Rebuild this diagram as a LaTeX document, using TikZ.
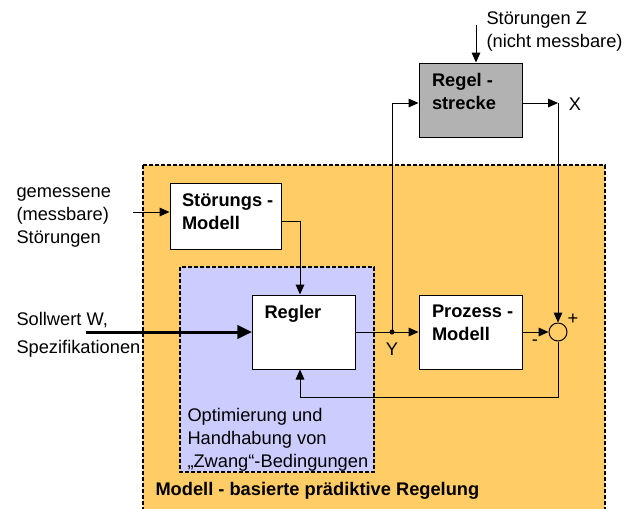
\documentclass[tikz,border=0pt]{standalone}
\usepackage{fontspec}
\setmainfont{Liberation Sans}
\usetikzlibrary{arrows.meta,calc}
\definecolor{mpcorange}{RGB}{255,204,102}
\definecolor{optblue}{RGB}{204,204,255}
\definecolor{plantgray}{RGB}{178,178,178}

\begin{document}
\begin{tikzpicture}[
		x=0.75pt, y=-0.75pt, line width=0.75pt,
		txt/.style = {anchor=base west, inner sep=0pt, align=left, font=\fontsize{13.7}{17.25}\selectfont},
		btxt/.style = {txt, font=\fontsize{13.7}{17.25}\selectfont\bfseries},
		blk/.style = {draw, fill=white, inner sep=0pt, minimum width=77.25pt, minimum height=55.5pt},
		area/.style = {draw, line width=1pt, dash pattern=on 3pt off 1.5pt},
		>={Triangle[length=7.5pt,width=6.5pt]}
	]
	\useasboundingbox (0,0) rectangle (630,508);
	\draw[area, fill=mpcorange] (143,165) rectangle (605,512);
	\draw[area, fill=optblue] (180,267) rectangle (374,472);

	\node[blk] (regler)  at (304,332)   {};
	\node[blk] (prozess) at (470.5,332) {};
	\node[blk, fill=plantgray] (strecke) at (470.5,100) {};
	\node[blk, minimum width=83.25pt, minimum height=49.5pt] (stoer) at (225.5,216) {};
	\node[draw, circle, inner sep=0pt, minimum size=13.5pt] (sum) at (558,332) {};

	% multi-line texts sit on the baseline of their last line
	\node[btxt] (reglerT)  at ($(regler.north west)+(12,24)$)  {Regler};
	\node[btxt] (prozessT) at ($(prozess.north west)+(13,46)$) {Prozess -\\Modell};
	\node[btxt] (streckeT) at ($(strecke.north west)+(13,47)$) {Regel -\\strecke};
	\node[btxt] (stoerT)   at ($(stoer.north west)+(12,47)$)   {Störungs -\\Modell};

	\node[txt] (zlbl) at (486,47)  {Störungen Z\\(nicht messbare)};
	\node[txt] (glbl) at (16,243)  {gemessene\\(messbare)\\Störungen};
	\node[txt] (wlbl) at (16,353)  {Sollwert W,\\[3.75pt]Spezifikationen};
	\node[txt] (olbl) at (187,467) {Optimierung und\\Handhabung von\\„Zwang“-Bedingungen};
	\node[btxt] (mpc) at (155,495) {Modell - basierte prädiktive Regelung};
	\node[txt, anchor=base] (ylbl)  at (392,355) {Y};
	\node[txt, anchor=base] (xlbl)  at (575,110) {X};
	\node[txt, anchor=base] (minus) at (535,345) {-};
	\node[txt, anchor=base] (plus)  at (573,324) {+};

	\coordinate (yj)  at (392,332);
	\coordinate (xo)  at (558,103);
	\coordinate (fb)  at (300,397);
	\coordinate (sm)  at (300,221);
	\coordinate (gin) at (133,212);
	\coordinate (zin) at (476,25);
	\coordinate (win) at (86,332);

	\draw (regler.east) -- (yj);
	\draw[->] (yj) -- (prozess.west);
	\fill (yj) circle (2.5);
	\draw[->] (yj) |- (strecke.west |- xo);
	\draw[->] (strecke.east |- xo) -- (xo);
	\draw[->] (xo) -- (sum.north);
	\draw[->] (prozess.east) -- (sum.west);
	\draw[->] (sum.south) |- (fb) -- (regler.south -| fb);
	\draw[->] (stoer.east |- sm) -| (regler.north -| sm);
	\draw[->] (gin) -- (stoer.west |- gin);
	\draw[->] (zin) -- (strecke.north -| zin);
	\draw[line width=2.25pt, -{Triangle[length=11pt,width=10pt]}] (win) -- (regler.west);
\end{tikzpicture}
\end{document}
